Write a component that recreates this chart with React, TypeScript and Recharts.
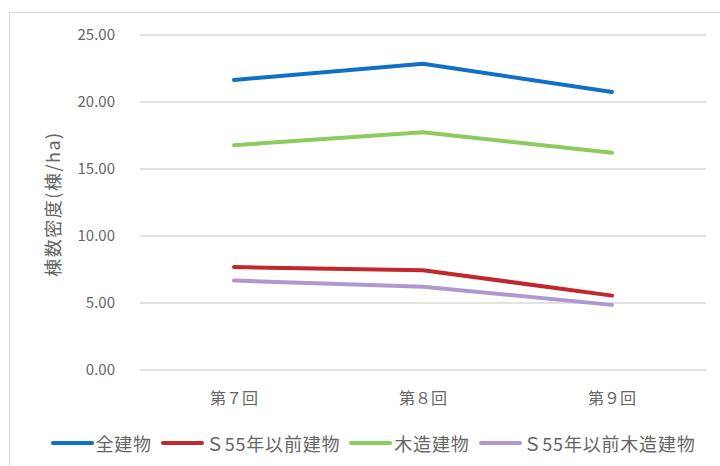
import { LineChart, Line, XAxis, YAxis, CartesianGrid, Legend } from 'recharts';

const categories = ['第７回', '第８回', '第９回'];
const allBuildings = [21.65, 22.85, 20.75];
const preS55Buildings = [7.68, 7.45, 5.55];
const woodenBuildings = [16.78, 17.74, 16.22];
const preS55Wooden = [6.68, 6.22, 4.86];
const yTicks = [0, 5, 10, 15, 20, 25];

const seriesDefs = [
  { key: 'all', name: '全建物', color: '#1071C4', values: allBuildings },
  { key: 'preS55', name: 'Ｓ55年以前建物', color: '#C1272D', values: preS55Buildings },
  { key: 'wooden', name: '木造建物', color: '#8DCB5F', values: woodenBuildings },
  { key: 'preS55Wooden', name: 'Ｓ55年以前木造建物', color: '#AE98CF', values: preS55Wooden },
];

const chartData = categories.map((c, i) => {
  const row: Record<string, string | number> = { name: c };
  seriesDefs.forEach((s) => {
    row[s.key] = s.values[i];
  });
  return row;
});

const FONT = '"Noto Sans CJK JP", "Noto Sans", sans-serif';
const TEXT = '#666666';

function LegendContent() {
  return (
    <div
      style={{
        display: 'flex',
        justifyContent: 'center',
        alignItems: 'center',
        fontFamily: FONT,
        fontSize: 18,
        letterSpacing: 0.8,
        color: TEXT,
        paddingLeft: 26,
      }}
    >
      {seriesDefs.map((s, i) => (
        <div
          key={s.key}
          style={{ display: 'flex', alignItems: 'center', marginRight: i < seriesDefs.length - 1 ? 9 : 0 }}
        >
          <span
            style={{
              display: 'inline-block',
              width: 43,
              height: 4,
              borderRadius: 2,
              background: s.color,
              marginRight: 2,
            }}
          />
          <span>{s.name}</span>
        </div>
      ))}
    </div>
  );
}

export default function App() {
  return (
    <div
      style={{
        position: 'absolute',
        left: 0,
        top: 0,
        width: 720,
        height: 466,
        overflow: 'hidden',
        background: '#fff',
      }}
    >
      <div
        style={{
          position: 'absolute',
          left: 9,
          top: 12,
          width: 740,
          height: 480,
          border: '1.5px solid #D9D9D9',
        }}
      />
      <div style={{ position: 'absolute', left: 0, top: 0 }}>
        <LineChart
          width={720}
          height={466}
          data={chartData}
          margin={{ top: 35, right: 14, left: 78, bottom: 40 }}
        >
          <CartesianGrid vertical={false} stroke="#D9D9D9" strokeWidth={1.3} />
          <XAxis
            dataKey="name"
            axisLine={false}
            tickLine={false}
            padding={{ left: 94, right: 94 }}
            tick={{ fill: TEXT, fontSize: 16, fontFamily: FONT }}
            tickMargin={17}
          />
          <YAxis
            width={62}
            domain={[0, 25]}
            ticks={yTicks}
            axisLine={false}
            tickLine={false}
            tickMargin={19}
            tickFormatter={(v: number) => v.toFixed(2)}
            tick={{ fill: TEXT, fontSize: 15, fontFamily: FONT }}
            label={{
              content: () => (
                <text
                  x={55}
                  y={204}
                  transform="rotate(-90 55 204)"
                  textAnchor="middle"
                  dominantBaseline="middle"
                  fill={TEXT}
                  fontSize={18}
                  letterSpacing={1.5}
                  fontFamily={FONT}
                >
                  棟数密度(棟/ha)
                </text>
              ),
            }}
          />
          <Legend
            verticalAlign="bottom"
            wrapperStyle={{ bottom: 10, left: 0, width: 720 }}
            content={<LegendContent />}
          />
          {seriesDefs.map((s) => (
            <Line
              key={s.key}
              type="linear"
              dataKey={s.key}
              name={s.name}
              stroke={s.color}
              strokeWidth={4}
              strokeLinecap="round"
              dot={false}
              activeDot={false}
              isAnimationActive={false}
            />
          ))}
        </LineChart>
      </div>
    </div>
  );
}
